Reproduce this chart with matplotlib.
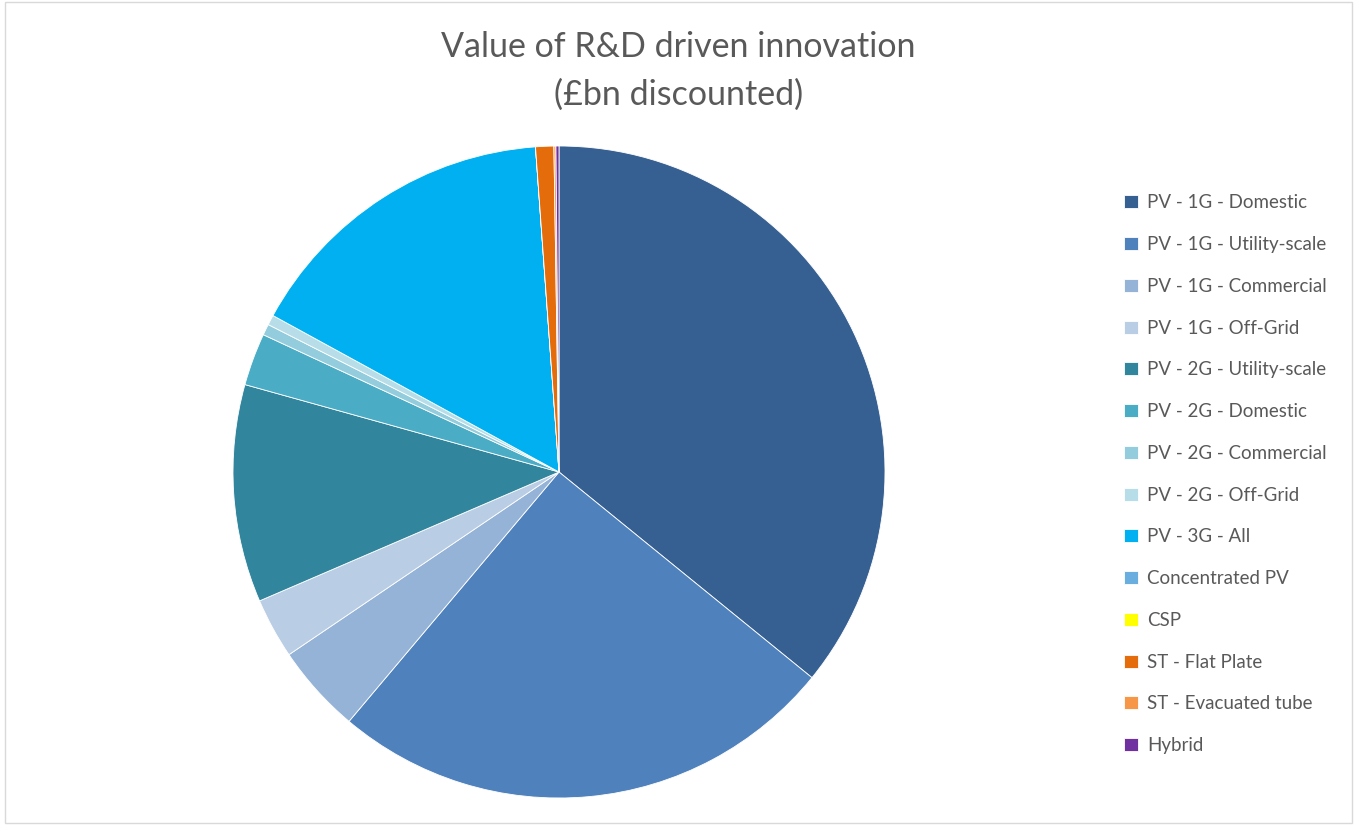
import matplotlib.pyplot as plt
from matplotlib.patches import Rectangle

labels = ['PV - 1G - Domestic', 'PV - 1G - Utility-scale', 'PV - 1G - Commercial',
          'PV - 1G - Off-Grid', 'PV - 2G - Utility-scale', 'PV - 2G - Domestic',
          'PV - 2G - Commercial', 'PV - 2G - Off-Grid', 'PV - 3G - All',
          'Concentrated PV', 'CSP', 'ST - Flat Plate', 'ST - Evacuated tube', 'Hybrid']
# share of value
values = [35.9, 25.3, 4.4, 3.0, 10.8, 2.6, 0.55, 0.5, 15.9, 0.0, 0.0, 0.9, 0.1, 0.15]
colors = ['#376092', '#4F81BD', '#95B3D7', '#B9CDE5', '#31859C', '#4BACC6',
          '#93CDDD', '#B7DEE8', '#00B0F0', '#6AAEE0', '#FFFF00', '#E46C0A',
          '#F79646', '#7030A0']

plt.rcParams['font.family'] = ['Lato', 'DejaVu Sans']

W, H = 1357, 825
fig = plt.figure(figsize=(W / 100, H / 100), dpi=100)
fig.patches.append(Rectangle((0.004, 0.002), 0.992, 0.996, transform=fig.transFigure,
                             fill=False, edgecolor='#D9D9D9', linewidth=1))

cx, cy, r = 559, 472, 326
ax = fig.add_axes([(cx - r) / W, (H - cy - r) / H, 2 * r / W, 2 * r / H])
wedges, _ = ax.pie(values, colors=colors, startangle=90, counterclock=False,
                   radius=1, wedgeprops={'edgecolor': 'white', 'linewidth': 0.6})
ax.set_xlim(-1, 1)
ax.set_ylim(-1, 1)
ax.set_aspect('equal')
ax.axis('off')

fig.text(0.5, 1 - 47 / H, 'Value of R&D driven innovation', ha='center', va='center',
         fontsize=24.5, color='#595959')
fig.text(0.5, 1 - 95 / H, '(£bn discounted)', ha='center', va='center',
         fontsize=24.5, color='#595959')

fig.legend(wedges, labels, loc='upper left', bbox_to_anchor=(1115 / W, 1 - 185 / H),
           frameon=False, fontsize=13.5, labelcolor='#595959', handlelength=0.7,
           handleheight=0.7, handletextpad=0.5, labelspacing=1.32, borderpad=0)

fig.savefig('out.png', dpi=100)
